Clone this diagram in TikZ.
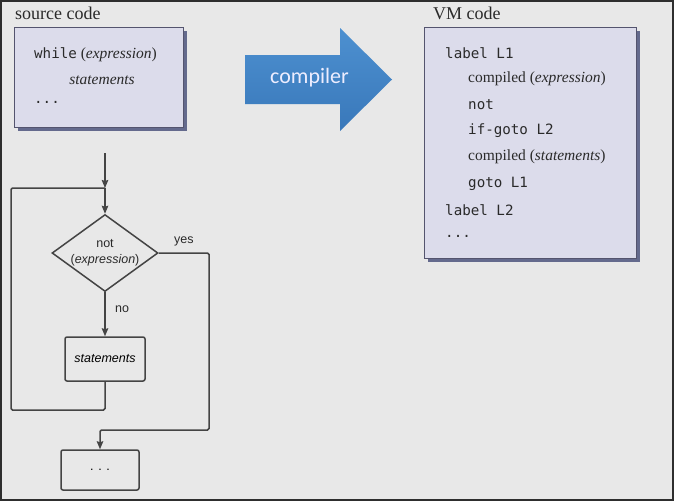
\documentclass[tikz,border=0pt]{standalone}
\usepackage{fontspec}
\setmainfont{Liberation Serif}
\setsansfont{Liberation Sans}
\setmonofont{DejaVu Sans Mono}
\newfontfamily\arrowfont{Carlito}
\usetikzlibrary{shapes.geometric,arrows.meta,shadows}

\definecolor{framedark}{HTML}{2E2E2E}
\definecolor{bggray}{HTML}{E8E8E8}
\definecolor{boxfill}{HTML}{DCDCEB}
\definecolor{boxline}{HTML}{54546E}
\definecolor{shadowblue}{HTML}{565D84}
\definecolor{arrowtop}{HTML}{4D90D0}
\definecolor{arrowbot}{HTML}{3978BA}
\definecolor{flowline}{HTML}{444444}
\definecolor{inktext}{HTML}{2A2A2A}

\tikzset{
  codebox/.style={draw=boxline, line width=1pt, fill=boxfill,
    drop shadow={shadow xshift=4pt, shadow yshift=-4pt, fill=shadowblue, opacity=0.9}},
  codeline/.style={anchor=west, inner sep=0pt, text=inktext, font=\fontsize{15.5}{18}\selectfont},
  title/.style={anchor=west, inner sep=0pt, text=inktext, font=\fontsize{18}{20}\selectfont},
  flow/.style={draw=flowline, line width=1.5pt, rounded corners=1.5pt},
  flowarrow/.style={flow, -{Stealth[length=8pt,width=6.5pt,inset=1pt]}},
  flowbox/.style={draw=flowline, line width=1.5pt, rounded corners=2pt, fill=bggray},
  decision/.style={diamond, draw=flowline, line width=1.5pt, inner sep=0pt},
  flowtext/.style={font=\sffamily\fontsize{12.5}{16}\selectfont, text=inktext}
}
\newcommand{\mono}{\ttfamily\fontsize{14.2}{18}\selectfont}

\begin{document}
\begin{tikzpicture}[x=1pt, y=-1pt]
  % background
  \fill[framedark] (0,0) rectangle (674,501);
  \fill[bggray] (2,2) rectangle (672,499);
  \useasboundingbox (0,0) rectangle (674,501);

  % source code
  \node[title] (srctitle) at (15,13) {source code};
  \node[codebox, minimum width=169pt, minimum height=100pt] (src) at (98.5,77) {};
  \node[codeline] (srcwhile) at (34,55) {{\mono while} (\textit{expression})};
  \node[codeline, anchor=center] (srcstat) at (102,80) {\textit{statements}};
  \node[codeline] (srcdots) at (34,102) {\mono ...};

  % VM code
  \node[title] (vmtitle) at (433,13) {VM code};
  \node[codebox, minimum width=212pt, minimum height=231pt] (vm) at (530,142.5) {};
  \node[codeline] (vm1) at (445,53) {\mono label L1};
  \node[codeline] (vm2) at (468,79) {compiled (\textit{expression})};
  \node[codeline] (vm3) at (468,105) {\mono not};
  \node[codeline] (vm4) at (468,131) {\mono if-goto L2};
  \node[codeline] (vm5) at (468,157) {compiled (\textit{statements})};
  \node[codeline] (vm6) at (468,184) {\mono goto L1};
  \node[codeline] (vm7) at (445,210) {\mono label L2};
  \node[codeline] (vm8) at (445,236) {\mono ...};

  % compiler arrow
  \shade[top color=arrowtop, bottom color=arrowbot]
    (245,55) -- (340,55) -- (340,28) -- (392,79.5) -- (340,131) -- (340,104) -- (245,104) -- cycle;
  \node[text=white!93!blue, font=\arrowfont\fontsize{22}{24}\selectfont] (comp) at (309.5,78) {compiler};

  % flowchart
  \coordinate (entry) at (105,153);
  \coordinate (join) at (105,188);
  \coordinate (loopcorner) at (11,410);
  \coordinate (yescorner) at (209,430);
  \node[decision, minimum width=106pt, minimum height=77pt] (cond) at (105,253) {};
  \node[flowtext, align=center] (condtxt) at (cond) {not\\(\textit{expression})};
  \node[flowbox, minimum width=80pt, minimum height=44pt] (stmts) at (105,359)
    {\sffamily\itshape\fontsize{12.5}{16}\selectfont statements};
  \node[flowbox, minimum width=78pt, minimum height=40pt] (done) at (100,470)
    {\sffamily\fontsize{12.5}{16}\selectfont . . .};

  \draw[flowarrow] (entry) -- (join);
  \draw[flowarrow] (join) -- (cond.north);
  \draw[flowarrow] (cond.south) -- node[flowtext, pos=0.38, right=6pt] {no} (stmts.north);
  \draw[flow] (stmts.south) |- (loopcorner) |- (join);
  \draw[flowarrow] (cond.east) -| node[flowtext, pos=0.25, above=3pt] {yes} (yescorner) -| (done.north);
\end{tikzpicture}
\end{document}
